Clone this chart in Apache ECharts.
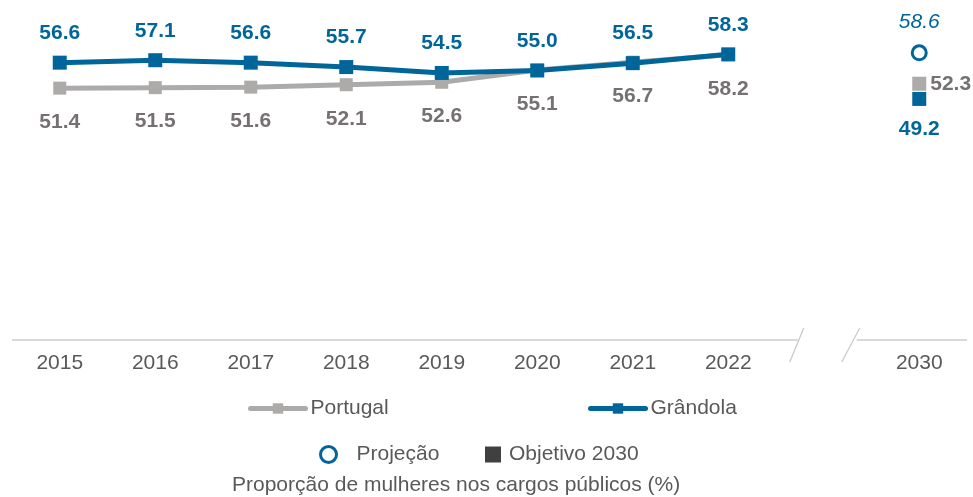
<!DOCTYPE html>
<html>
<head>
<meta charset="utf-8">
<script src="https://cdn.jsdelivr.net/npm/echarts@6/dist/echarts.min.js"></script>
<style>
  html, body { margin: 0; padding: 0; background: #ffffff; }
  #chart { width: 973px; height: 497px; }
</style>
</head>
<body>
<div id="chart"></div>
<script>
// Categories: 2015–2022, an empty slot for the axis break, then 2030
const years = ['2015', '2016', '2017', '2018', '2019', '2020', '2021', '2022', '', '2030'];
const portugal = [51.4, 51.5, 51.6, 52.1, 52.6, 55.1, 56.7, 58.2, '-', '-'];
const grandola = [56.6, 57.1, 56.6, 55.7, 54.5, 55.0, 56.5, 58.3, '-', '-'];
const projecaoGrandola = 58.6;
const objetivoPortugal = 52.3;
const objetivoGrandola = 49.2;

const BLUE = '#006699';
const GRAY_LINE = '#ADAAAA';
const GRAY_LABEL = '#767171';
const TEXT = '#595959';
const FONT = '"Liberation Sans", Arial, sans-serif';
const FS = 21;

const chart = echarts.init(document.getElementById('chart'), null, { renderer: 'canvas' });

const legendText = { fontFamily: FONT, fontSize: FS, color: TEXT };
const lineLegend = {
  padding: 0, itemWidth: 55, itemHeight: 13, textStyle: legendText,
  lineStyle: { width: 5, cap: 'round' }
};

chart.setOption({
  animation: false,
  backgroundColor: '#ffffff',
  textStyle: { fontFamily: FONT },
  title: {
    text: 'Proporção de mulheres nos cargos públicos (%)',
    left: 232,
    top: 475,
    padding: 0,
    textStyle: { fontFamily: FONT, fontSize: FS, fontWeight: 'normal', color: TEXT }
  },
  legend: [
    Object.assign({ data: ['Portugal'], left: 248, top: 398 }, lineLegend),
    Object.assign({ data: ['Grândola'], left: 588, top: 398 }, lineLegend),
    {
      data: ['Projeção'], left: 319, top: 444, padding: 0,
      itemWidth: 16, itemHeight: 16,
      itemStyle: { color: '#ffffff', borderColor: BLUE, borderWidth: 3 },
      textStyle: Object.assign({}, legendText, { padding: [0, 0, 0, 15] })
    },
    {
      data: [{ name: 'Objetivo 2030', icon: 'rect', itemStyle: { color: '#404040' } }],
      left: 485, top: 444, padding: 0,
      itemWidth: 16, itemHeight: 16,
      textStyle: Object.assign({}, legendText, { padding: [0, 0, 0, 3] })
    }
  ],
  grid: { left: 12, right: 6, top: 46, bottom: 157, containLabel: false },
  xAxis: {
    type: 'category',
    data: years,
    boundaryGap: true,
    axisLine: { show: false },
    axisTick: { show: false },
    axisLabel: { fontFamily: FONT, fontSize: FS, color: TEXT, margin: 13 },
    splitLine: { show: false }
  },
  yAxis: {
    type: 'value', min: 0, max: 60, show: false,
    splitLine: { show: false }
  },
  series: [
    {
      name: 'Portugal',
      type: 'line',
      data: portugal,
      symbol: 'rect',
      symbolSize: 13,
      color: GRAY_LINE,
      lineStyle: { width: 5, color: GRAY_LINE },
      itemStyle: { color: GRAY_LINE },
      label: {
        show: true, position: 'bottom', distance: 17,
        fontFamily: FONT, fontSize: FS, fontWeight: 'bold', color: GRAY_LABEL,
        formatter: p => p.value.toFixed(1)
      },
      z: 2
    },
    {
      name: 'Grândola',
      type: 'line',
      data: grandola,
      symbol: 'rect',
      symbolSize: 14,
      color: BLUE,
      lineStyle: { width: 5, color: BLUE },
      itemStyle: { color: BLUE },
      label: {
        show: true, position: 'top', distance: 12,
        fontFamily: FONT, fontSize: FS, fontWeight: 'bold', color: BLUE,
        formatter: p => p.value.toFixed(1)
      },
      z: 3
    },
    {
      name: 'Projeção',
      type: 'scatter',
      data: [['2030', projecaoGrandola]],
      symbol: 'circle',
      symbolSize: 14,
      itemStyle: { color: '#ffffff', borderColor: BLUE, borderWidth: 3, opacity: 1 },
      label: {
        show: true, position: 'top', distance: 12,
        fontFamily: FONT, fontSize: FS, fontStyle: 'italic', color: BLUE,
        formatter: p => p.value[1].toFixed(1)
      },
      z: 4
    },
    {
      name: 'Objetivo 2030',
      type: 'scatter',
      symbol: 'rect',
      symbolSize: 14,
      color: '#404040',
      itemStyle: { opacity: 1 },
      data: [
        {
          value: ['2030', objetivoPortugal],
          itemStyle: { color: GRAY_LINE, opacity: 1 },
          label: { position: 'right', distance: 4, color: GRAY_LABEL }
        },
        {
          value: ['2030', objetivoGrandola],
          itemStyle: { color: BLUE, opacity: 1 },
          label: { position: 'bottom', distance: 13, color: BLUE }
        }
      ],
      label: {
        show: true,
        fontFamily: FONT, fontSize: FS, fontWeight: 'bold',
        formatter: p => p.value[1].toFixed(1)
      },
      z: 4
    }
  ]
});

// Axis baseline with a break in the empty slot between 2022 and 2030
function drawAxisBreak() {
  const gridRect = chart.getModel().getComponent('grid', 0).coordinateSystem.getRect();
  const y0 = chart.convertToPixel({ yAxisIndex: 0 }, 0);
  const xGap = chart.convertToPixel({ xAxisIndex: 0 }, 8);
  const axisStyle = { stroke: '#D9D9D9', lineWidth: 2 };
  const slashStyle = { stroke: '#C8C8C8', lineWidth: 1.2 };
  chart.setOption({
    graphic: [
      { type: 'line', silent: true, shape: { x1: gridRect.x, y1: y0, x2: xGap - 26, y2: y0 }, style: axisStyle },
      { type: 'line', silent: true, shape: { x1: xGap + 33, y1: y0, x2: gridRect.x + gridRect.width, y2: y0 }, style: axisStyle },
      { type: 'line', silent: true, shape: { x1: xGap - 34, y1: y0 + 22, x2: xGap - 20, y2: y0 - 12 }, style: slashStyle },
      { type: 'line', silent: true, shape: { x1: xGap + 18, y1: y0 + 22, x2: xGap + 36, y2: y0 - 12 }, style: slashStyle }
    ]
  });
}
drawAxisBreak();
</script>
</body>
</html>
